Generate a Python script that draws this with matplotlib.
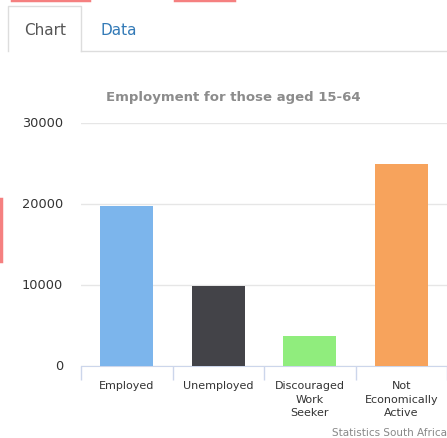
import matplotlib
matplotlib.use("Agg")
import matplotlib.pyplot as plt
from matplotlib.lines import Line2D
from matplotlib.transforms import blended_transform_factory

categories = ["Employed", "Unemployed", "Discouraged\nWork\nSeeker", "Not\nEconomically\nActive"]
values = [19700, 9900, 3700, 24900]
colors = ["#7cb5ec", "#434348", "#90ed7d", "#f7a35c"]
yticks = [0, 10000, 20000, 30000]
title = "Employment for those aged 15-64"
credit = "Statistics South Africa"

plt.rcParams['font.family'] = ['DejaVu Sans']

W, H = 447, 439
fig = plt.figure(figsize=(W / 100, H / 100), dpi=100, facecolor="white")

def fx(px):
    return px / W

def fy(py):
    return 1 - py / H

# Decorations: tabs and red marks
fig.add_artist(Line2D([fx(12), fx(89)], [fy(1), fy(1)], color="#f58080", lw=2.5))
fig.add_artist(Line2D([fx(175), fx(234)], [fy(1), fy(1)], color="#f58080", lw=2.5))
fig.add_artist(Line2D([fx(1), fx(1)], [fy(200), fy(262)], color="#f58080", lw=2.5))
fig.add_artist(Line2D([fx(8), fx(8), fx(81), fx(81)], [fy(52), fy(7), fy(7), fy(52)], color="#dddddd", lw=1))
fig.add_artist(Line2D([fx(81), fx(447)], [fy(51.5), fy(51.5)], color="#dddddd", lw=1))
fig.text(fx(45.5), fy(30.5), "Chart", ha="center", va="center", fontsize=11, color="#555555")
fig.text(fx(118.5), fy(30.5), "Data", ha="center", va="center", fontsize=11, color="#337ab7")

# Plot area
left, right = 81, 447
bottom, top = 367, 124
ax = fig.add_axes([fx(left), fy(bottom), fx(right - left), fy(top) - fy(bottom)])
ax.set_facecolor("white")
x = list(range(len(categories)))
ax.bar(x, values, width=0.58, color=colors, edgecolor="none", alpha=1.0, zorder=3)
ax.set_xlim(-0.5, len(categories) - 0.5)
ax.set_ylim(0, 30000)
ax.set_yticks(yticks)
ax.set_yticklabels([])
ax.yaxis.grid(True, color="#e6e6e6", lw=1, zorder=0)
ax.tick_params(axis="y", length=0)
for s in ["top", "right", "left"]:
    ax.spines[s].set_visible(False)
ax.spines["bottom"].set_color("#ccd6eb")
ax.set_xticks([i - 0.5 for i in range(len(categories) + 1)])
ax.set_xticklabels([])
ax.tick_params(axis="x", length=10, color="#ccd6eb", width=1)

ytrans = blended_transform_factory(fig.transFigure, ax.transData)
for v in yticks:
    ax.text(fx(63), v, str(v), transform=ytrans, ha="right", va="center",
            fontsize=9.3, color="#333333", clip_on=False)

xtrans = blended_transform_factory(ax.transData, fig.transFigure)
for i, c in enumerate(categories):
    ax.text(i, fy(381), c, ha="center", va="top", fontsize=8, color="#333333",
            linespacing=1.45, transform=xtrans, clip_on=False)

fig.text(fx(233), fy(97), title, ha="center", va="center", fontsize=9.5,
         fontweight="bold", color="#8c8c8c")
fig.text(fx(447), fy(433), credit, ha="right", va="center", fontsize=7.5, color="#888888")

fig.savefig("out.png", dpi=100, facecolor="white")
